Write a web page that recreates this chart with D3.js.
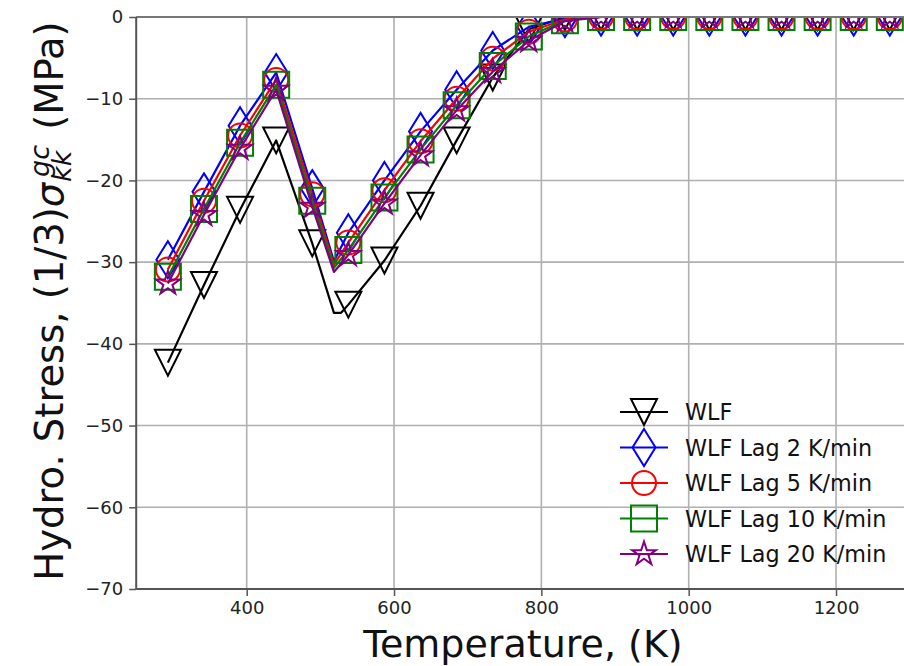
<!DOCTYPE html>
<html>
<head>
<meta charset="utf-8">
<script src="https://cdn.jsdelivr.net/npm/d3@7"></script>
<style>
  html, body { margin: 0; padding: 0; background: #fff; }
  svg { display: block; font-family: "DejaVu Sans", sans-serif; }
</style>
</head>
<body>
<svg id="chart" width="904" height="666"></svg>
<script>
// ---------- data ----------
const temps = [293, 342, 391, 440, 489, 538, 587, 636, 685, 734, 783, 832, 881, 930, 979, 1028, 1077, 1126, 1175, 1224, 1273];

const wlf     = [-42.3, -32.8, -23.6, -15.1, -27.7, -35.2, -29.8, -23.1, -15.1, -7.4, -1.5, 0, 0, 0, 0, 0, 0, 0, 0, 0, 0];
const lag2    = [-29.7, -21.4, -13.3, -6.8, -21.0, -26.4, -20.0, -14.0, -8.9, -4.1, -1.2, -0.2, 0, 0, 0, 0, 0, 0, 0, 0, 0];
const lag5    = [-30.9, -22.5, -14.5, -7.7, -21.7, -27.6, -21.2, -15.2, -10.0, -5.1, -1.8, -0.3, 0, 0, 0, 0, 0, 0, 0, 0, 0];
const lag10   = [-31.8, -23.5, -15.4, -8.3, -22.5, -28.5, -22.1, -16.2, -10.8, -6.0, -2.4, -0.4, 0, 0, 0, 0, 0, 0, 0, 0, 0];
const lag20   = [-32.6, -24.2, -16.1, -8.9, -23.2, -29.1, -22.8, -16.9, -11.4, -6.7, -2.9, -0.5, 0, 0, 0, 0, 0, 0, 0, 0, 0];

// extra line vertices (curve computed on a finer grid than the markers)
const wlfExtraT   = [518.4, 528.2];
const wlfExtraV   = [-36.2, -36.2];
const lag2ExtraT  = [518.4];
const lag2ExtraV  = [-29.9];
const lag5ExtraT  = [518.4];
const lag5ExtraV  = [-30.3];
const lag10ExtraT = [518.4];
const lag10ExtraV = [-30.7];
const lag20ExtraT = [518.4];
const lag20ExtraV = [-31.2];

const seriesNames = ["WLF", "WLF Lag 2 K/min", "WLF Lag 5 K/min", "WLF Lag 10 K/min", "WLF Lag 20 K/min"];
const seriesColors = ["#000000", "#0000ff", "#ff0000", "#008000", "#800080"];
const seriesMarkers = ["triangle_down", "thin_diamond", "circle", "square", "star"];

const xTicks = [400, 600, 800, 1000, 1200];
const yTicks = [0, -10, -20, -30, -40, -50, -60, -70];

// ---------- layout ----------
const svg = d3.select("#chart");
const L = 136.2, R = 909.7, T = 17, B = 589;
const x = d3.scaleLinear().domain([250, 1300]).range([L, R]);
const y = d3.scaleLinear().domain([-70, 0]).range([B, T]);

svg.append("defs").append("clipPath").attr("id", "plotclip")
  .append("rect").attr("x", L).attr("y", T).attr("width", R - L).attr("height", B - T);

// grid
const grid = svg.append("g");
grid.selectAll("line.v").data(xTicks).join("line")
  .attr("x1", d => x(d)).attr("x2", d => x(d)).attr("y1", T).attr("y2", B)
  .attr("stroke", "#b0b0b0").attr("stroke-width", 1.6);
grid.selectAll("line.h").data(yTicks).join("line")
  .attr("y1", d => y(d)).attr("y2", d => y(d)).attr("x1", L).attr("x2", R)
  .attr("stroke", "#b0b0b0").attr("stroke-width", 1.6);

// marker paths
function markerPath(kind) {
  if (kind === "triangle_down") return "M0,13L-13,-13L13,-13Z";
  if (kind === "thin_diamond") return "M0,-18.5L11.5,0L0,18.5L-11.5,0Z";
  if (kind === "circle") return "M12,0A12,12 0 1,1 -12,0A12,12 0 1,1 12,0Z";
  if (kind === "square") return "M-13,-13L13,-13L13,13L-13,13Z";
  if (kind === "star") {
    const ro = 12.5, ri = ro * 0.381966;
    let p = [];
    for (let i = 0; i < 10; i++) {
      const r = i % 2 === 0 ? ro : ri;
      const a = -Math.PI / 2 + i * Math.PI / 5;
      p.push([r * Math.cos(a), r * Math.sin(a)]);
    }
    return "M" + p.map(q => q[0].toFixed(2) + "," + q[1].toFixed(2)).join("L") + "Z";
  }
}

const allValues = [wlf, lag2, lag5, lag10, lag20];
const allExtraT = [wlfExtraT, lag2ExtraT, lag5ExtraT, lag10ExtraT, lag20ExtraT];
const allExtraV = [wlfExtraV, lag2ExtraV, lag5ExtraV, lag10ExtraV, lag20ExtraV];

const plot = svg.append("g").attr("clip-path", "url(#plotclip)");
const line = d3.line().x(d => x(d[0])).y(d => y(d[1]));

allValues.forEach((vals, i) => {
  const markerPts = temps.map((t, k) => [t, vals[k]]);
  const extraPts = allExtraT[i].map((t, k) => [t, allExtraV[i][k]]);
  const linePts = markerPts.concat(extraPts).sort((a, b) => a[0] - b[0]);
  const g = plot.append("g");
  g.append("path").datum(linePts).attr("d", line)
    .attr("fill", "none").attr("stroke", seriesColors[i]).attr("stroke-width", 2.2)
    .attr("stroke-linejoin", "round");
  g.selectAll("path.m").data(markerPts).join("path")
    .attr("class", "m")
    .attr("transform", d => `translate(${x(d[0])},${y(d[1])})`)
    .attr("d", markerPath(seriesMarkers[i]))
    .attr("fill", "none").attr("stroke", seriesColors[i]).attr("stroke-width", 2)
    .attr("stroke-linejoin", "miter");
});

// spines
const spineColor = "#555";
svg.append("line").attr("x1", L).attr("x2", R).attr("y1", B).attr("y2", B).attr("stroke", spineColor).attr("stroke-width", 2);
svg.append("line").attr("x1", L).attr("x2", R).attr("y1", T).attr("y2", T).attr("stroke", "#777").attr("stroke-width", 2);
svg.append("line").attr("x1", L).attr("x2", L).attr("y1", T).attr("y2", B).attr("stroke", spineColor).attr("stroke-width", 2);

// axes
const xAxis = d3.axisBottom(x).tickValues(xTicks).tickSize(7).tickPadding(5).tickFormat(d3.format("d"));
const gx = svg.append("g").attr("transform", `translate(0,${B})`).call(xAxis);
gx.select(".domain").remove();
gx.selectAll(".tick line").attr("stroke", spineColor).attr("stroke-width", 1.5);
gx.selectAll(".tick text").attr("font-size", 18).attr("fill", "#222").attr("font-family", "DejaVu Sans");

const yAxis = d3.axisLeft(y).tickValues(yTicks).tickSize(7).tickPadding(6).tickFormat(d => d === 0 ? "0" : "\u2212" + Math.abs(d));
const gy = svg.append("g").attr("transform", `translate(${L},0)`).call(yAxis);
gy.select(".domain").remove();
gy.selectAll(".tick line").attr("stroke", spineColor).attr("stroke-width", 1.5);
gy.selectAll(".tick text").attr("font-size", 18).attr("fill", "#222").attr("font-family", "DejaVu Sans");

// x label
svg.append("text").attr("x", (L + R) / 2).attr("y", 657)
  .attr("text-anchor", "middle").attr("font-size", 38).attr("fill", "#111")
  .text("Temperature, (K)");

// y label with math
const yl = svg.append("text").attr("transform", `translate(63,301) rotate(-90)`)
  .attr("text-anchor", "middle").attr("font-size", 38.5).attr("fill", "#111");
yl.append("tspan").text("Hydro. Stress, (1/3)");
yl.append("tspan").attr("font-style", "italic").text("\u03C3");
const sub = yl.append("tspan").attr("font-style", "italic").attr("font-size", 27).attr("dx", 1).attr("dy", 8).text("kk");
const subW = sub.node().getComputedTextLength();
const sup = yl.append("tspan").attr("font-style", "italic").attr("font-size", 27).attr("dx", -subW + 5).attr("dy", -22).text("gc");
const supW = sup.node().getComputedTextLength();
yl.append("tspan").attr("dx", Math.max(0, subW - supW - 5) + 3).attr("dy", 14).text(" (MPa)");

// legend (no frame)
const legX = 644, legY0 = 412, legStep = 35.5;
seriesNames.forEach((name, i) => {
  const ly = legY0 + i * legStep;
  svg.append("line").attr("x1", legX - 24).attr("x2", legX + 24).attr("y1", ly).attr("y2", ly)
    .attr("stroke", seriesColors[i]).attr("stroke-width", 2.2);
  svg.append("path").attr("transform", `translate(${legX},${ly})`).attr("d", markerPath(seriesMarkers[i]))
    .attr("fill", "none").attr("stroke", seriesColors[i]).attr("stroke-width", 2);
  svg.append("text").attr("x", 685).attr("y", ly).attr("dy", "0.36em")
    .attr("font-size", 22.3).attr("fill", "#111").text(name);
});
</script>
</body>
</html>
